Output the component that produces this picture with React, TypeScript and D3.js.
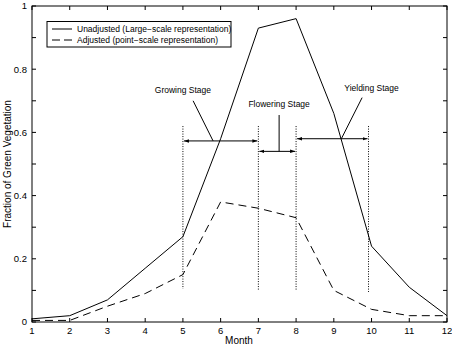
import * as d3 from 'd3'

const months = [1, 2, 3, 4, 5, 6, 7, 8, 9, 10, 11, 12]
const unadjusted = [0.01, 0.02, 0.07, 0.17, 0.27, 0.58, 0.93, 0.96, 0.66, 0.24, 0.11, 0.02]
const adjusted = [0.005, 0.005, 0.05, 0.09, 0.15, 0.38, 0.36, 0.33, 0.1, 0.04, 0.02, 0.02]
const yTicks = [0, 0.1, 0.2, 0.3, 0.4, 0.5, 0.6, 0.7, 0.8, 0.9, 1]
const yLabels = [0, 0.2, 0.4, 0.6, 0.8, 1]

// stage boundaries (month, top, bottom of dotted marker)
const boundaries = [
  { m: 5, top: 0.62, bottom: 0.105 },
  { m: 7, top: 0.62, bottom: 0.1 },
  { m: 8, top: 0.62, bottom: 0.1 },
  { m: 9.92, top: 0.62, bottom: 0.095 },
]
const stages = [
  { name: 'Growing Stage', from: 5, to: 7, y: 0.573, label: [5.0, 0.725], lead: [[5.27, 0.7], [5.8, 0.573]] },
  { name: 'Flowering Stage', from: 7, to: 8, y: 0.54, label: [7.55, 0.68], lead: [[7.55, 0.655], [7.55, 0.54]] },
  { name: 'Yielding Stage', from: 8, to: 9.92, y: 0.58, label: [10.0, 0.73], lead: [[9.75, 0.71], [9.2, 0.58]] },
]

const W = 452
const H = 345
const left = 32
const right = 447
const top = 6
const bottom = 322

export default function App() {
  const x = d3.scaleLinear().domain([1, 12]).range([left, right])
  const y = d3.scaleLinear().domain([0, 1]).range([bottom, top])
  const line = d3.line<number>().x((_, i) => x(months[i])).y(d => y(d))
  const font = 'Liberation Sans, Arial, Helvetica, sans-serif'
  const tick = 4

  return (
    <svg width={W} height={H} style={{ position: 'absolute', left: 0, top: 0, background: '#fff' }} fontFamily={font}>
      <defs>
        <marker id="arr" viewBox="0 0 10 10" refX="10" refY="5" markerWidth="5" markerHeight="5" orient="auto-start-reverse">
          <path d="M0,1.5 L10,5 L0,8.5 z" fill="#000" />
        </marker>
      </defs>

      {/* frame */}
      <rect x={left} y={top} width={right - left} height={bottom - top} fill="none" stroke="#000" strokeWidth={1} />

      {/* y ticks, both sides */}
      {yTicks.map(t => (
        <g key={t}>
          <line x1={left} x2={left + tick} y1={y(t)} y2={y(t)} stroke="#000" />
          <line x1={right} x2={right - tick} y1={y(t)} y2={y(t)} stroke="#000" />
        </g>
      ))}
      {yLabels.map(t => (
        <text key={t} x={left - 5} y={y(t)} dy="0.35em" textAnchor="end" fontSize={9.5}>
          {t === 0 || t === 1 ? String(t) : t.toFixed(1)}
        </text>
      ))}

      {/* x ticks, top and bottom */}
      {months.map(m => (
        <g key={m}>
          <line x1={x(m)} x2={x(m)} y1={bottom} y2={bottom - tick} stroke="#000" />
          <line x1={x(m)} x2={x(m)} y1={top} y2={top + tick} stroke="#000" />
          <text x={x(m)} y={bottom + 12} textAnchor="middle" fontSize={9.5}>{m}</text>
        </g>
      ))}

      <text x={239} y={344} textAnchor="middle" fontSize={10}>Month</text>
      <text transform={`translate(11,${(top + bottom) / 2}) rotate(-90)`} textAnchor="middle" fontSize={10}>
        Fraction of Green Vegetation
      </text>

      {/* series */}
      <path d={line(unadjusted) ?? ''} fill="none" stroke="#000" strokeWidth={1} />
      <path d={line(adjusted) ?? ''} fill="none" stroke="#000" strokeWidth={1} strokeDasharray="8,5" />

      {/* stage markers */}
      {boundaries.map(b => (
        <line key={b.m} x1={x(b.m)} x2={x(b.m)} y1={y(b.top)} y2={y(b.bottom)} stroke="#000" strokeWidth={1} strokeDasharray="1,1.5" />
      ))}
      {stages.map(s => (
        <g key={s.name}>
          <line x1={x(s.from) + 1} x2={x(s.to) - 1} y1={y(s.y)} y2={y(s.y)} stroke="#000" strokeWidth={1}
            markerStart="url(#arr)" markerEnd="url(#arr)" />
          <line x1={x(s.lead[0][0])} y1={y(s.lead[0][1])} x2={x(s.lead[1][0])} y2={y(s.lead[1][1])} stroke="#000" />
          <text x={x(s.label[0])} y={y(s.label[1])} textAnchor="middle" fontSize={8.5}>{s.name}</text>
        </g>
      ))}

      {/* legend */}
      <rect x={47} y={21.5} width={184} height={25.5} fill="#fff" stroke="#000" />
      <line x1={52} x2={72} y1={29} y2={29} stroke="#000" />
      <text x={77} y={29} dy="0.35em" fontSize={8.5}>Unadjusted (Large−scale representation)</text>
      <line x1={52} x2={72} y1={40} y2={40} stroke="#000" strokeDasharray="8,4" />
      <text x={77} y={40} dy="0.35em" fontSize={8.5}>Adjusted (point−scale representation)</text>
    </svg>
  )
}
